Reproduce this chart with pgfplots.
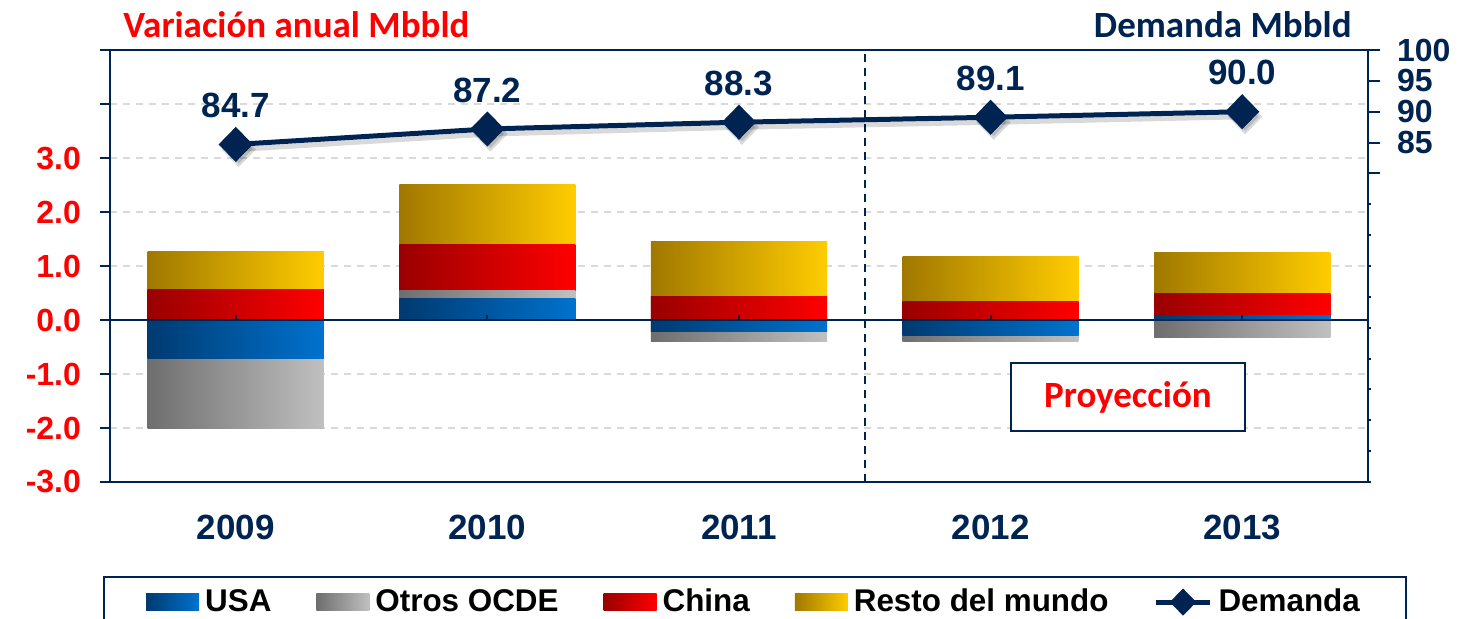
\documentclass[border=0pt]{standalone}
\usepackage{fontspec}
\setmainfont{Liberation Sans}
\newfontfamily\carlito{Carlito}
\usepackage{pgfplots}
\pgfplotsset{compat=1.18}

\definecolor{navy}{RGB}{0,36,82}
\definecolor{gridgray}{RGB}{217,217,217}
\definecolor{usaL}{RGB}{0,58,112}
\definecolor{usaR}{RGB}{0,114,206}
\definecolor{grayL}{RGB}{110,110,110}
\definecolor{grayR}{RGB}{192,192,192}
\definecolor{chinaL}{RGB}{153,0,0}
\definecolor{chinaR}{RGB}{255,0,0}
\definecolor{restoL}{RGB}{160,120,0}
\definecolor{restoR}{RGB}{255,204,0}

\pgfplotsset{
  swatch/.style={legend image code/.code={\path[##1] (0pt,-4.25pt) rectangle (26.5pt,4.25pt);}},
  demleg/.style={legend image code/.code={\draw[##1,mark size=5pt,mark repeat=2,mark phase=2] plot coordinates {(0pt,0pt)(13.5pt,0pt)(27pt,0pt)};}},
  base/.style={at={(55pt,68pt)},anchor=south west,scale only axis,width=629pt,height=216pt,
    xmin=-0.5,xmax=4.5},
}
% one bar segment: series colour, category, top of the segment in the stack
\newcommand{\seg}[3]{\addplot[ybar,bar width=0.7,bar shift=0pt,draw=none,left color=#1L,right color=#1R] coordinates {(#2,#3)};}

\begin{document}
\begin{tikzpicture}
\path[use as bounding box] (0,0) rectangle (732pt,309pt);

% barras: variacion anual (tope acumulado de cada tramo)
\begin{axis}[base,
  ymin=-3,ymax=5,
  xtick={0,...,4},xticklabels={2009,2010,2011,2012,2013},
  major x tick style={draw=none},
  xticklabel style={font=\bfseries\fontsize{17.5}{20}\selectfont,text=navy,yshift=-8pt},
  ytick={-3,...,5},yticklabels={-3.0,-2.0,-1.0,0.0,1.0,2.0,3.0,,},
  yticklabel style={font=\bfseries\fontsize{16}{19}\selectfont,text=red,xshift=-6pt},
  ytick pos=left,xtick pos=bottom,
  tick align=outside,major tick length=5pt,
  y tick style={navy,line width=1pt},
  axis line style={navy,line width=1pt},
  ymajorgrids,major grid style={gridgray,line width=1pt,dash pattern=on 3.5pt off 3pt},
]
% 2009
\seg{resto}{0}{1.27}\seg{china}{0}{0.57}\seg{gray}{0}{-2.00}\seg{usa}{0}{-0.72}
% 2010
\seg{resto}{1}{2.51}\seg{china}{1}{1.40}\seg{gray}{1}{0.55}\seg{usa}{1}{0.40}
% 2011
\seg{resto}{2}{1.46}\seg{china}{2}{0.44}\seg{gray}{2}{-0.39}\seg{usa}{2}{-0.22}
% 2012
\seg{resto}{3}{1.18}\seg{china}{3}{0.35}\seg{gray}{3}{-0.39}\seg{usa}{3}{-0.28}
% 2013
\seg{resto}{4}{1.25}\seg{china}{4}{0.50}\seg{usa}{4}{0.09}\seg{gray}{4}{-0.33}

\draw[navy,line width=1pt] (axis cs:-0.5,0) -- (axis cs:4.5,0);
\pgfplotsinvokeforeach{0,...,4}{\draw[navy,line width=1pt] (axis cs:#1,0) -- ([yshift=2.5pt]axis cs:#1,0);}
\draw[navy,line width=0.8pt,dash pattern=on 4pt off 3pt] (axis cs:2.5,-3) -- (axis cs:2.5,5);
\node[draw=navy,line width=1.2pt,fill=white,minimum width=117pt,minimum height=34pt,
  font=\carlito\bfseries\fontsize{18.5}{21}\selectfont,text=red] at (axis cs:3.546,-1.43) {Proyección};
\end{axis}

% linea: demanda
\begin{axis}[base,
  ymin=30,ymax=100,
  axis y line*=right,hide x axis,
  ytick={80,85,90,95,100},yticklabels={,85,90,95,100},
  minor ytick={30,35,...,75},
  tick align=outside,major tick length=6pt,minor tick length=1.5pt,
  y tick style={navy,line width=1pt},
  axis line style={navy,line width=1pt},
  yticklabel style={font=\bfseries\fontsize{16}{19}\selectfont,text=navy,xshift=5pt},
  legend columns=5,legend cell align=left,
  legend style={at={(axis description cs:-0.0056,-0.2176)},anchor=north west,
    draw=navy,line width=1.2pt,font=\bfseries\fontsize{15.7}{18}\selectfont,
    inner xsep=21pt,inner ysep=4pt,
    /tikz/every odd column/.append style={column sep=1pt},
    /tikz/every even column/.append style={column sep=20.5pt}},
]
\addlegendimage{swatch,draw=none,left color=usaL,right color=usaR}
\addlegendentry{USA}
\addlegendimage{swatch,draw=none,left color=grayL,right color=grayR}
\addlegendentry{Otros OCDE}
\addlegendimage{swatch,draw=none,left color=chinaL,right color=chinaR}
\addlegendentry{China}
\addlegendimage{swatch,draw=none,left color=restoL,right color=restoR}
\addlegendentry{Resto del mundo}
\addplot[forget plot,black,opacity=0.15,line width=2.5pt,xshift=1.5pt,yshift=-2.5pt,
  mark=diamond*,mark size=7pt,mark options={xscale=1.3}]
  coordinates {(0,84.7)(1,87.2)(2,88.3)(3,89.1)(4,90.0)};
\addplot[demleg,navy,line width=2.5pt,mark=diamond*,mark size=7pt,mark options={xscale=1.3},
  point meta=explicit symbolic,nodes near coords,
  every node near coord/.append style={font=\bfseries\fontsize{17.5}{20}\selectfont,
    text=navy,anchor=south,inner sep=0pt,yshift=12pt}]
  coordinates {(0,84.7)[84.7](1,87.2)[87.2](2,88.3)[88.3](3,89.1)[89.1](4,90.0)[90.0]};
\addlegendentry{Demanda}
\end{axis}

\node[anchor=west,inner sep=0pt,text=red,font=\carlito\bfseries\fontsize{18.5}{21}\selectfont]
  at (61.5pt,296.5pt) {Variación anual Mbbld};
\node[anchor=east,inner sep=0pt,text=navy,font=\carlito\bfseries\fontsize{18.5}{21}\selectfont]
  at (676pt,296.5pt) {Demanda Mbbld};
\end{tikzpicture}
\end{document}
